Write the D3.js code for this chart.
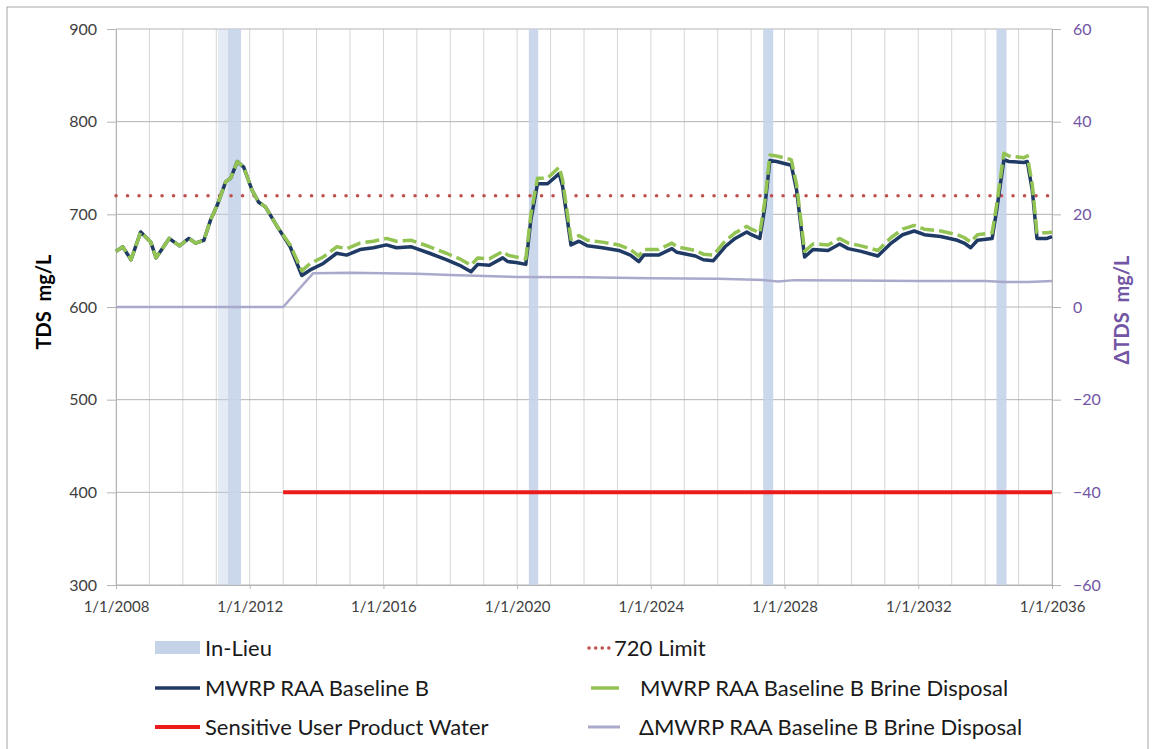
<!DOCTYPE html>
<html>
<head>
<meta charset="utf-8">
<script src="https://cdn.jsdelivr.net/npm/d3@7/dist/d3.min.js"></script>
<style>
  body { margin: 0; background: #fff; }
  text { font-family: Lato, "Open Sans", sans-serif; }
</style>
</head>
<body>
<svg id="chart" width="1156" height="749"></svg>
<script>
// valeurs
const yearTicks = [2008, 2012, 2016, 2020, 2024, 2028, 2032, 2036];
const gridYears = d3.range(2008, 2037);
const tdsTicks = [300, 400, 500, 600, 700, 800, 900];
const deltaTicks = [-60, -40, -20, 0, 20, 40, 60];

const inLieu = [[2011.35, 2011.74], [2020.35, 2020.63], [2027.36, 2027.66], [2034.34, 2034.64]];
const inLieuPartial = [[2011.05, 2011.35]];

const limit720 = [[2008, 720], [2036, 720]];
const productWater = [[2013.0, 400], [2036, 400]];

const baselineB = [
  [2008.0, 660], [2008.2, 665], [2008.45, 651], [2008.74, 681], [2009.04, 670], [2009.2, 653],
  [2009.59, 674], [2009.9, 666], [2010.18, 674], [2010.38, 669], [2010.63, 672], [2010.83, 694],
  [2011.03, 710], [2011.28, 735], [2011.43, 739], [2011.63, 757], [2011.82, 751], [2012.07, 726],
  [2012.27, 713], [2012.47, 708], [2012.82, 687], [2013.21, 665], [2013.56, 634], [2013.81, 640],
  [2014.2, 647], [2014.6, 658], [2014.9, 656], [2015.3, 662], [2015.7, 664], [2016.09, 667],
  [2016.39, 664], [2016.84, 665], [2016.99, 663], [2017.38, 658], [2017.88, 651], [2018.28, 645],
  [2018.62, 638], [2018.82, 646], [2019.17, 645], [2019.57, 653], [2019.72, 649], [2019.97, 648],
  [2020.26, 646], [2020.41, 694], [2020.61, 733], [2020.91, 733], [2021.26, 744], [2021.36, 730],
  [2021.61, 667], [2021.85, 671], [2022.1, 666], [2022.55, 664], [2023.04, 661], [2023.39, 656],
  [2023.64, 649], [2023.79, 656], [2024.23, 656], [2024.63, 663], [2024.78, 659], [2025.33, 655],
  [2025.57, 651], [2025.87, 650], [2026.22, 665], [2026.52, 674], [2026.87, 681], [2027.01, 678],
  [2027.26, 674], [2027.41, 708], [2027.56, 758], [2027.76, 757], [2028.2, 753], [2028.36, 726],
  [2028.6, 654], [2028.85, 662], [2029.3, 661], [2029.65, 668], [2029.9, 663], [2030.29, 660],
  [2030.79, 655], [2031.19, 669], [2031.53, 678], [2031.88, 682], [2032.18, 678], [2032.67, 676],
  [2033.17, 672], [2033.37, 669], [2033.57, 664], [2033.77, 672], [2034.21, 674], [2034.36, 708],
  [2034.56, 759], [2034.71, 757], [2035.16, 756], [2035.26, 757], [2035.41, 726], [2035.55, 674],
  [2035.85, 674], [2036.0, 676]
];

const brineDisposal = [
  [2008.0, 660], [2008.2, 665], [2008.45, 651], [2008.74, 681], [2009.04, 670], [2009.2, 653],
  [2009.59, 674], [2009.9, 666], [2010.18, 674], [2010.38, 669], [2010.63, 672], [2010.83, 694],
  [2011.03, 710], [2011.28, 735], [2011.43, 739], [2011.63, 757], [2011.82, 751], [2012.07, 726],
  [2012.27, 713], [2012.47, 708], [2012.82, 687], [2013.21, 667], [2013.56, 639], [2013.81, 647],
  [2014.2, 654], [2014.6, 665], [2014.9, 663], [2015.3, 669], [2015.7, 671], [2016.09, 674],
  [2016.39, 671], [2016.84, 672], [2016.99, 670], [2017.38, 665], [2017.88, 658], [2018.28, 652],
  [2018.62, 645], [2018.82, 653], [2019.17, 652], [2019.57, 660], [2019.72, 656], [2019.97, 654],
  [2020.26, 652], [2020.41, 700], [2020.61, 739], [2020.91, 739], [2021.26, 751], [2021.36, 737],
  [2021.61, 673], [2021.85, 677], [2022.1, 672], [2022.55, 670], [2023.04, 667], [2023.39, 662],
  [2023.64, 655], [2023.79, 662], [2024.23, 662], [2024.63, 669], [2024.78, 665], [2025.33, 661],
  [2025.57, 657], [2025.87, 656], [2026.22, 671], [2026.52, 680], [2026.87, 687], [2027.01, 684],
  [2027.26, 680], [2027.41, 714], [2027.56, 764], [2027.76, 763], [2028.2, 759], [2028.36, 732],
  [2028.6, 660], [2028.85, 668], [2029.3, 667], [2029.65, 674], [2029.9, 669], [2030.29, 666],
  [2030.79, 661], [2031.19, 675], [2031.53, 684], [2031.88, 688], [2032.18, 684], [2032.67, 682],
  [2033.17, 678], [2033.37, 675], [2033.57, 670], [2033.77, 678], [2034.21, 680], [2034.36, 714],
  [2034.56, 766], [2034.71, 763], [2035.16, 761], [2035.26, 763], [2035.41, 732], [2035.55, 680],
  [2035.85, 680], [2036.0, 681]
];

const deltaBrine = [
  [2008, 0], [2013.0, 0], [2013.9, 7.3], [2015, 7.4], [2017, 7.2], [2018, 6.9], [2020, 6.5],
  [2022, 6.4], [2024, 6.2], [2026, 6.1], [2027.4, 5.8], [2027.8, 5.5], [2028.3, 5.8], [2030, 5.7],
  [2032, 5.6], [2034, 5.6], [2034.6, 5.4], [2035.3, 5.4], [2036, 5.6]
];

const legendItems = [
  "In-Lieu", "720 Limit", "MWRP RAA Baseline B", "MWRP RAA Baseline B Brine Disposal",
  "Sensitive User Product Water", "ΔMWRP RAA Baseline B Brine Disposal"
];

const svg = d3.select("#chart");
const plotLeft = 116, plotRight = 1052, plotTop = 29, plotBottom = 585;

const x = d3.scaleLinear().domain([2008, 2036]).range([plotLeft, plotRight]);
const y = d3.scaleLinear().domain([300, 900]).range([plotBottom, plotTop]);
const y2 = d3.scaleLinear().domain([-60, 60]).range([plotBottom, plotTop]);

const navy = "#1f3a64", green = "#93c353", red = "#ec1b1b", grey = "#a9a9cb",
      band = "#c5d3e9", dotRed = "#c0504d", purple = "#7255a5";

// cadre
svg.append("rect")
  .attr("x", 7).attr("y", 7).attr("width", 1141).attr("height", 760)
  .attr("fill", "none").attr("stroke", "#a6a6a6");

// grille
svg.append("g").selectAll("line")
  .data(gridYears)
  .join("line")
  .attr("x1", d => x(d)).attr("x2", d => x(d))
  .attr("y1", plotTop).attr("y2", plotBottom)
  .attr("stroke", "#d6d6d6").attr("stroke-width", 1);

svg.append("g").selectAll("line")
  .data(tdsTicks)
  .join("line")
  .attr("x1", plotLeft).attr("x2", plotRight)
  .attr("y1", d => y(d)).attr("y2", d => y(d))
  .attr("stroke", "#b4b4b4").attr("stroke-width", 1);

// bandes In-Lieu
svg.append("g").selectAll("rect")
  .data(inLieuPartial)
  .join("rect")
  .attr("x", d => x(d[0])).attr("width", d => x(d[1]) - x(d[0]))
  .attr("y", plotTop).attr("height", plotBottom - plotTop)
  .attr("fill", band).attr("opacity", 0.45);

svg.append("g").selectAll("rect")
  .data(inLieu)
  .join("rect")
  .attr("x", d => x(d[0])).attr("width", d => x(d[1]) - x(d[0]))
  .attr("y", plotTop).attr("height", plotBottom - plotTop)
  .attr("fill", band).attr("opacity", 0.9);

// axes
const xAxis = d3.axisBottom(x).tickValues(yearTicks).tickFormat(d => `1/1/${d}`).tickSize(4).tickSizeOuter(0);
const yAxis = d3.axisLeft(y).tickValues(tdsTicks).tickSize(9).tickPadding(10).tickSizeOuter(0);
const y2Axis = d3.axisRight(y2).tickValues(deltaTicks).tickSize(9).tickPadding(12).tickSizeOuter(0);

const styleAxis = (g, color) => {
  g.select(".domain").attr("stroke", "#b4b4b4");
  g.selectAll(".tick line").attr("stroke", "#b4b4b4");
  g.selectAll(".tick text").attr("fill", color).style("font-family", "Lato, sans-serif");
};

svg.append("g").attr("transform", `translate(0,${plotBottom})`).call(xAxis)
  .call(g => styleAxis(g, "#404040"))
  .call(g => g.selectAll(".tick text").attr("font-size", 15).attr("dy", "1.3em"));

svg.append("g").attr("transform", `translate(${plotLeft},0)`).call(yAxis)
  .call(g => styleAxis(g, "#404040"))
  .call(g => g.selectAll(".tick text").attr("font-size", 16));

svg.append("g").attr("transform", `translate(${plotRight},0)`).call(y2Axis)
  .call(g => styleAxis(g, purple))
  .call(g => g.selectAll(".tick text").attr("font-size", 16));

// titres des axes
svg.append("text")
  .attr("transform", `translate(51,302) rotate(-90)`)
  .attr("text-anchor", "middle")
  .attr("font-size", 20).attr("font-weight", "bold").attr("fill", "#000")
  .style("white-space", "pre")
  .text("TDS  mg/L");

svg.append("text")
  .attr("transform", `translate(1129,310) rotate(-90)`)
  .attr("text-anchor", "middle")
  .attr("font-size", 20).attr("font-weight", "bold").attr("fill", purple)
  .style("white-space", "pre")
  .text("ΔTDS  mg/L");

// séries
const line = d3.line().x(d => x(d[0])).y(d => y(d[1]));
const line2 = d3.line().x(d => x(d[0])).y(d => y2(d[1]));

svg.append("path").datum(limit720).attr("d", line)
  .attr("fill", "none").attr("stroke", dotRed).attr("stroke-width", 3.5)
  .attr("stroke-linecap", "round").attr("stroke-dasharray", "0.1 11.4");

svg.append("path").datum(baselineB).attr("d", line)
  .attr("fill", "none").attr("stroke", navy).attr("stroke-width", 3.5)
  .attr("stroke-linejoin", "round");

svg.append("path").datum(brineDisposal).attr("d", line)
  .attr("fill", "none").attr("stroke", green).attr("stroke-width", 3.5)
  .attr("stroke-linejoin", "round").attr("stroke-dasharray", "14 5");

svg.append("path").datum(productWater).attr("d", line)
  .attr("fill", "none").attr("stroke", red).attr("stroke-width", 4);

svg.append("path").datum(deltaBrine).attr("d", line2)
  .attr("fill", "none").attr("stroke", grey).attr("stroke-width", 2.5)
  .attr("stroke-linejoin", "round");

// légende
const legend = svg.append("g").attr("font-size", 22).attr("fill", "#1a1a1a");
const rows = [648, 688, 727];

legend.append("rect").attr("x", 155).attr("y", rows[0] - 7).attr("width", 45).attr("height", 13)
  .attr("fill", band);
legend.append("line").attr("x1", 155).attr("x2", 200).attr("y1", rows[1]).attr("y2", rows[1])
  .attr("stroke", navy).attr("stroke-width", 3.5);
legend.append("line").attr("x1", 155).attr("x2", 200).attr("y1", rows[2]).attr("y2", rows[2])
  .attr("stroke", red).attr("stroke-width", 4);

legend.append("line").attr("x1", 589).attr("x2", 609).attr("y1", rows[0]).attr("y2", rows[0])
  .attr("stroke", dotRed).attr("stroke-width", 3.5).attr("stroke-linecap", "round")
  .attr("stroke-dasharray", "0.1 6.5");
legend.append("line").attr("x1", 591).attr("x2", 619).attr("y1", rows[1]).attr("y2", rows[1])
  .attr("stroke", green).attr("stroke-width", 3.5);
legend.append("line").attr("x1", 588).attr("x2", 620).attr("y1", rows[2]).attr("y2", rows[2])
  .attr("stroke", grey).attr("stroke-width", 3);

const labelPos = [[205, rows[0]], [614, rows[0]], [205, rows[1]], [640, rows[1]], [205, rows[2]], [639, rows[2]]];
legend.selectAll("text")
  .data(legendItems)
  .join("text")
  .attr("x", (d, i) => labelPos[i][0])
  .attr("y", (d, i) => labelPos[i][1])
  .attr("dy", "0.35em")
  .text(d => d);
</script>
</body>
</html>
